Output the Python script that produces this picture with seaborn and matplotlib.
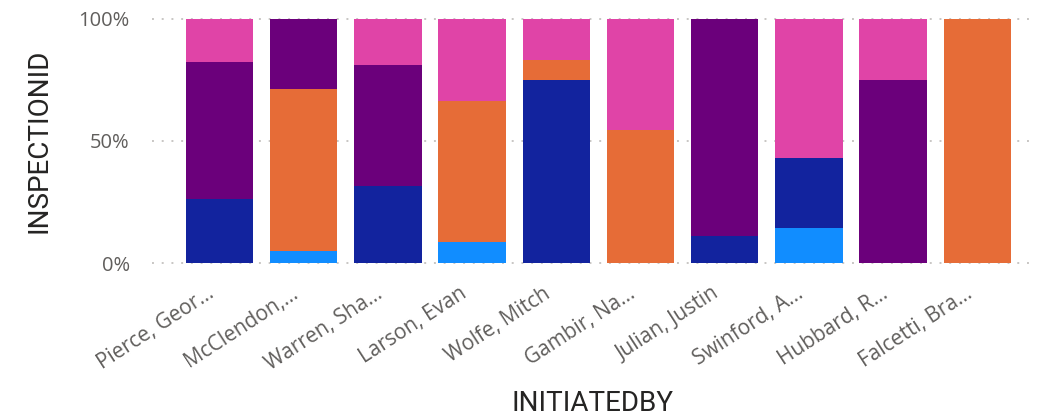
import numpy as np
import pandas as pd
import matplotlib
matplotlib.use('Agg')
import matplotlib.pyplot as plt
import matplotlib.transforms as mtransforms
import seaborn as sns

# data (percent of INSPECTIONID per person)
names = ['Pierce, Geor...', 'McClendon,...', 'Warren, Sha...', 'Larson, Evan',
         'Wolfe, Mitch', 'Gambir, Na...', 'Julian, Justin', 'Swinford, A...',
         'Hubbard, R...', 'Falcetti, Bra...']
series = ['S1', 'S2', 'S3', 'S4', 'S5']
s1 = [0, 4.9, 0, 8.7, 0, 0, 0, 14.3, 0, 0]
s2 = [26.2, 0, 31.7, 0, 75.0, 0, 11.1, 28.6, 0, 0]
s3 = [0, 66.4, 0, 57.7, 8.3, 54.5, 0, 0, 0, 100]
s4 = [56.2, 28.7, 49.4, 0, 0, 0, 88.9, 0, 75.0, 0]
s5 = [17.6, 0, 18.9, 33.6, 16.7, 45.5, 0, 57.1, 25.0, 0]
colors = ['#118DFF', '#12239E', '#E66C37', '#6B007B', '#E044A7']

df = pd.DataFrame({'name': names, 'S1': s1, 'S2': s2, 'S3': s3, 'S4': s4, 'S5': s5})
vals = df[series]
fill = vals.div(vals.sum(axis=1), axis=0) * 100
cum = fill.cumsum(axis=1)

sns.set_style('white')
plt.rcParams['font.family'] = ['Open Sans', 'DejaVu Sans']

fig = plt.figure(figsize=(10.42, 4.19), dpi=100)
ax = fig.add_axes([152 / 1042, 1 - 263 / 419, (1033 - 152) / 1042, 244 / 419])

# draw from the top of the stack down so lower segments sit on top
for s, c in reversed(list(zip(series, colors))):
    sns.barplot(x=df['name'], y=cum[s], color=c, width=0.8, saturation=1,
                linewidth=0, ax=ax, zorder=2)

ax.set_xlim(-0.8, 9.66)
ax.set_ylim(0, 100)
ax.set_yticks([0, 50, 100])
ax.set_yticklabels(['0%', '50%', '100%'])
for y in [0, 50, 100]:
    ax.axhline(y, color='#C8C6C4', lw=1.4, ls=(0, (1, 4)), zorder=0, clip_on=False)

for sp in ax.spines.values():
    sp.set_visible(False)
ax.tick_params(axis='both', length=0, colors='#605E5C', labelsize=14.5)
ax.tick_params(axis='x', labelsize=15, pad=8)
ax.tick_params(axis='y', pad=16)
shift = mtransforms.ScaledTranslation(-0.13, -0.09, fig.dpi_scale_trans)
for t in ax.get_xticklabels():
    t.set_rotation(33)
    t.set_ha('right')
    t.set_rotation_mode('anchor')
    t.set_transform(t.get_transform() + shift)

lab_font = ['Roboto', 'DejaVu Sans']
ax.set_xlabel('INITIATEDBY', fontsize=20, color='#252423', family=lab_font, labelpad=11)
ax.set_ylabel('INSPECTIONID', fontsize=20, color='#252423', family=lab_font, labelpad=19)

fig.savefig('out.png', dpi=100)
